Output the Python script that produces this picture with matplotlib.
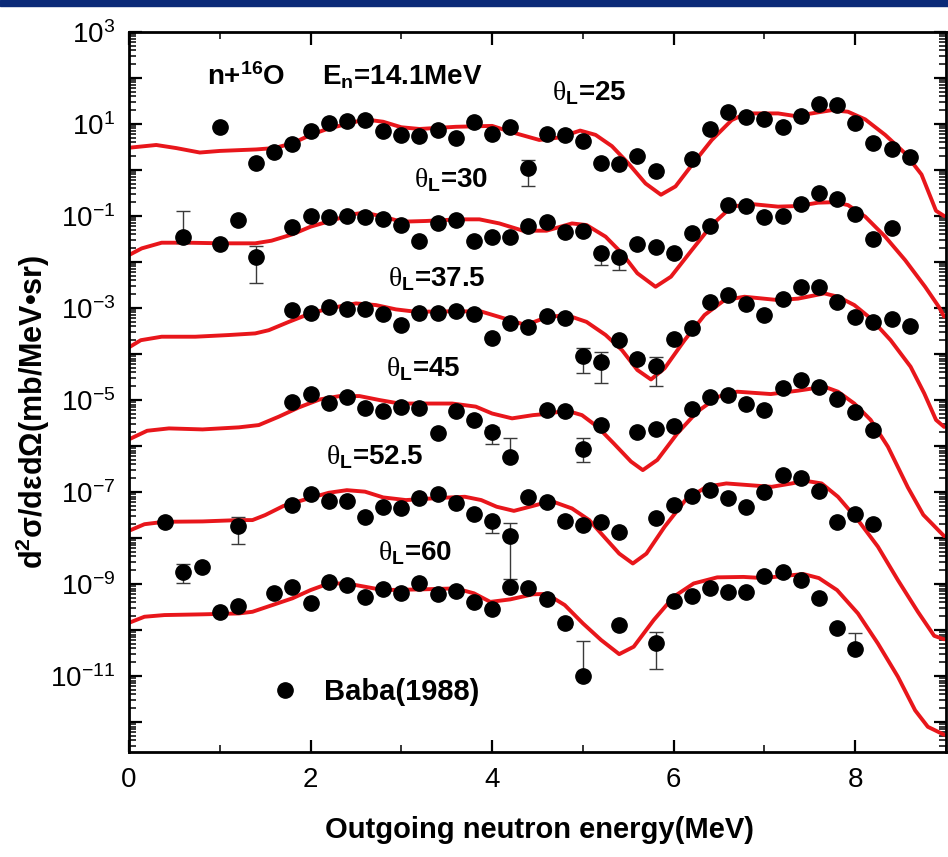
import numpy as np
import matplotlib
matplotlib.use('Agg')
import matplotlib.pyplot as plt
from matplotlib.ticker import MultipleLocator, LogLocator, FuncFormatter, NullFormatter
from matplotlib.lines import Line2D
from matplotlib.patches import Rectangle

plt.rcParams['font.family'] = ['Liberation Sans', 'DejaVu Sans']
plt.rcParams['mathtext.fontset'] = 'custom'
plt.rcParams['mathtext.rm'] = 'Liberation Serif'
plt.rcParams['mathtext.bf'] = 'Liberation Sans:bold'
plt.rcParams['mathtext.it'] = 'Liberation Sans:italic'

# ---- Baba(1988) data points (already scaled by 10^-2 per angle step) ----
x25 = [1.0, 1.4, 1.6, 1.8, 2.0, 2.2, 2.4, 2.6, 2.8, 3.0, 3.2, 3.4, 3.6, 3.8, 4.0, 4.2, 4.4, 4.6, 4.8,
       5.0, 5.2, 5.4, 5.6, 5.8, 6.2, 6.4, 6.6, 6.8, 7.0, 7.2, 7.4, 7.6, 7.8, 8.0, 8.2, 8.4, 8.6]
y25 = [8.5, 1.40, 2.5, 3.6, 7.0, 10.7, 11.6, 12.2, 7.0, 5.8, 5.6, 7.4, 4.9, 11.2, 6.0, 8.5, 1.09, 6.1, 5.8,
       4.3, 1.40, 1.35, 2.05, 0.97, 1.7, 7.7, 18.5, 14.4, 12.6, 8.7, 14.9, 26.8, 25.9, 10.7, 3.8, 2.9, 1.95]

x30 = [0.6, 1.0, 1.2, 1.4, 1.8, 2.0, 2.2, 2.4, 2.6, 2.8, 3.0, 3.2, 3.4, 3.6, 3.8, 4.0, 4.2, 4.4, 4.6,
       4.8, 5.0, 5.2, 5.4, 5.6, 5.8, 6.0, 6.2, 6.4, 6.6, 6.8, 7.0, 7.2, 7.4, 7.6, 7.8, 8.0, 8.2, 8.4]
y30 = [3.44e-2, 2.46e-2, 8.2e-2, 1.27e-2, 5.7e-2, 1.02e-1, 9.4e-2, 1.02e-1, 9.7e-2, 8.5e-2, 6.4e-2,
       2.8e-2, 6.9e-2, 8.2e-2, 2.9e-2, 3.56e-2, 3.5e-2, 6.1e-2, 7.3e-2, 4.6e-2, 4.8e-2, 1.6e-2, 1.27e-2,
       2.46e-2, 2.08e-2, 1.6e-2, 4.2e-2, 6.1e-2, 1.73e-1, 1.65e-1, 9.4e-2, 1.0e-1, 1.82e-1, 3.1e-1,
       2.3e-1, 1.1e-1, 3.2e-2, 5.6e-2]

x37 = [1.8, 2.0, 2.2, 2.4, 2.6, 2.8, 3.0, 3.2, 3.4, 3.6, 3.8, 4.0, 4.2, 4.4, 4.6, 4.8, 5.0, 5.2, 5.4,
       5.6, 5.8, 6.0, 6.2, 6.4, 6.6, 6.8, 7.0, 7.2, 7.4, 7.6, 7.8, 8.0, 8.2, 8.4, 8.6]
y37 = [9.0e-4, 7.9e-4, 1.03e-3, 9.4e-4, 9.4e-4, 7.4e-4, 4.3e-4, 7.7e-4, 7.7e-4, 8.8e-4, 7.4e-4, 2.2e-4,
       4.8e-4, 3.9e-4, 6.7e-4, 6.0e-4, 9.0e-5, 6.8e-5, 2.0e-4, 8.0e-5, 5.5e-5, 2.1e-4, 3.6e-4, 1.37e-3,
       1.92e-3, 1.22e-3, 7.0e-4, 1.54e-3, 2.9e-3, 2.8e-3, 1.37e-3, 6.3e-4, 5.0e-4, 5.8e-4, 4.1e-4]

x45 = [1.8, 2.0, 2.2, 2.4, 2.6, 2.8, 3.0, 3.2, 3.4, 3.6, 3.8, 4.0, 4.2, 4.6, 4.8, 5.0, 5.2, 5.6, 5.8,
       6.0, 6.2, 6.4, 6.6, 6.8, 7.0, 7.2, 7.4, 7.6, 7.8, 8.0, 8.2]
y45 = [8.9e-6, 1.33e-5, 8.8e-6, 1.14e-5, 6.6e-6, 5.9e-6, 6.9e-6, 6.6e-6, 1.95e-6, 5.9e-6, 3.7e-6,
       2.05e-6, 5.7e-7, 6.1e-6, 5.9e-6, 8.5e-7, 2.86e-6, 2.05e-6, 2.3e-6, 2.7e-6, 6.3e-6, 1.14e-5,
       1.29e-5, 8.2e-6, 6.1e-6, 1.85e-5, 2.72e-5, 1.95e-5, 1.03e-5, 5.6e-6, 2.23e-6]

x52 = [0.4, 1.2, 1.8, 2.0, 2.2, 2.4, 2.6, 2.8, 3.0, 3.2, 3.4, 3.6, 3.8, 4.0, 4.2, 4.4, 4.6, 4.8, 5.0,
       5.2, 5.4, 5.8, 6.0, 6.2, 6.4, 6.6, 6.8, 7.0, 7.2, 7.4, 7.6, 7.8, 8.0, 8.2]
y52 = [2.26e-8, 1.82e-8, 5.2e-8, 8.9e-8, 6.5e-8, 6.5e-8, 2.9e-8, 4.8e-8, 4.4e-8, 7.3e-8, 8.9e-8, 5.7e-8,
       3.4e-8, 2.3e-8, 1.1e-8, 7.65e-8, 6.2e-8, 2.4e-8, 1.92e-8, 2.26e-8, 1.37e-8, 2.68e-8, 5.2e-8,
       8.2e-8, 1.1e-7, 7.5e-8, 4.65e-8, 9.8e-8, 2.34e-7, 1.98e-7, 1.07e-7, 2.26e-8, 3.3e-8, 2.0e-8]

x60 = [0.6, 0.8, 1.0, 1.2, 1.6, 1.8, 2.0, 2.2, 2.4, 2.6, 2.8, 3.0, 3.2, 3.4, 3.6, 3.8, 4.0, 4.2, 4.4,
       4.6, 4.8, 5.0, 5.4, 5.8, 6.0, 6.2, 6.4, 6.6, 6.8, 7.0, 7.2, 7.4, 7.6, 7.8, 8.0]
y60 = [1.85e-9, 2.38e-9, 2.5e-10, 3.3e-10, 6.3e-10, 8.75e-10, 3.9e-10, 1.12e-9, 9.5e-10, 5.3e-10,
       7.65e-10, 6.3e-10, 1.03e-9, 6.1e-10, 7.0e-10, 4.1e-10, 2.85e-10, 8.8e-10, 8.05e-10, 4.65e-10,
       1.4e-10, 1.0e-11, 1.29e-10, 5.3e-11, 4.35e-10, 5.5e-10, 8.05e-10, 6.8e-10, 6.6e-10, 1.5e-9,
       1.85e-9, 1.22e-9, 4.9e-10, 1.12e-10, 3.9e-11]

# ---- error bars: energy, lower end, upper end ----
ex = [4.4, 5.8, 0.6, 1.4, 5.2, 5.4, 6.0, 5.0, 5.2, 5.6, 5.8, 4.0, 4.2, 5.0,
      1.2, 4.0, 4.2, 4.8, 5.4, 0.6, 4.8, 5.0, 5.8, 7.8, 8.0]
elo = [0.45, 0.78, 2.6e-2, 3.5e-3, 8.6e-3, 6.7e-3, 1.3e-2, 3.9e-5, 2.3e-5, 6.5e-5, 2.0e-5, 1.1e-6, 5.7e-7, 4.6e-7,
       7.6e-9, 1.3e-8, 1.27e-9, 1.9e-8, 1.15e-8, 1.03e-9, 1.15e-10, 1.0e-11, 1.4e-11, 9.5e-11, 3.9e-11]
ehi = [1.65, 1.0, 1.28e-1, 2.23e-2, 1.8e-2, 1.4e-2, 1.7e-2, 1.33e-4, 1.12e-4, 9.5e-5, 8.7e-5, 2.6e-6, 1.47e-6, 1.47e-6,
       2.9e-8, 2.6e-8, 2.15e-8, 2.9e-8, 1.6e-8, 2.8e-9, 1.6e-10, 5.9e-11, 9.2e-11, 1.3e-10, 8.8e-11]

# ---- model curves ----
cx25 = [0.0, 0.3, 0.52, 0.78, 1.0, 1.4, 1.6, 1.8, 2.0, 2.2, 2.4, 2.6, 2.8, 3.0, 3.2, 3.6, 4.0, 4.22, 4.52,
        4.74, 4.97, 5.14, 5.32, 5.5, 5.69, 5.86, 6.02, 6.2, 6.42, 6.64, 6.8, 7.15, 7.34, 7.52, 7.74, 7.92,
        8.11, 8.33, 8.55, 8.73, 8.89, 8.98]
cy25 = [3.05, 3.5, 3.0, 2.4, 2.6, 2.8, 3.0, 3.8, 5.8, 8.0, 10.0, 12.6, 11.2, 8.5, 7.8, 8.7, 9.1, 6.6, 4.5,
        5.1, 7.2, 5.8, 3.3, 1.4, 0.51, 0.29, 0.44, 1.28, 4.5, 12.2, 17.0, 17.0, 14.9, 17.0, 20.0, 18.5,
        12.6, 5.8, 2.3, 0.8, 0.13, 0.1]

cx30 = [0.0, 0.14, 0.36, 0.65, 1.03, 1.39, 1.57, 1.8, 2.0, 2.25, 2.47, 2.6, 2.8, 3.0, 3.27, 3.63, 3.86,
        4.08, 4.34, 4.6, 4.88, 5.04, 5.25, 5.43, 5.6, 5.8, 5.97, 6.2, 6.42, 6.64, 6.86, 7.15, 7.37, 7.59,
        7.77, 7.92, 8.11, 8.33, 8.55, 8.77, 8.92, 8.98]
cy30 = [0.0142, 0.0198, 0.0263, 0.0263, 0.0255, 0.0255, 0.0291, 0.040, 0.0586, 0.0818, 0.110, 0.118,
        0.097, 0.0753, 0.078, 0.0847, 0.0847, 0.069, 0.048, 0.048, 0.069, 0.0637, 0.0356, 0.0155, 0.0057,
        0.0029, 0.0048, 0.0182, 0.0637, 0.160, 0.182, 0.160, 0.165, 0.195, 0.20, 0.173, 0.097, 0.0356,
        0.011, 0.0029, 0.00107, 0.00065]

cx37 = [0.0, 0.13, 0.36, 0.73, 1.1, 1.39, 1.54, 1.76, 1.98, 2.2, 2.5, 2.72, 2.94, 3.16, 3.6, 3.88, 4.08,
        4.37, 4.6, 4.82, 5.04, 5.25, 5.43, 5.6, 5.75, 5.9, 6.12, 6.34, 6.56, 6.78, 7.15, 7.37, 7.66, 7.81,
        7.99, 8.17, 8.39, 8.61, 8.76, 8.89, 8.98]
cy37 = [1.4e-4, 2.0e-4, 2.38e-4, 2.38e-4, 2.59e-4, 2.81e-4, 3.3e-4, 5.0e-4, 7.4e-4, 9.8e-4, 1.26e-3,
        1.16e-3, 9.35e-4, 8.3e-4, 8.5e-4, 8.4e-4, 6.4e-4, 4.27e-4, 6.3e-4, 7.05e-4, 5.0e-4, 2.6e-4,
        1.22e-4, 4.5e-5, 2.8e-5, 4.9e-5, 2.0e-4, 7.05e-4, 1.49e-3, 1.76e-3, 1.49e-3, 1.6e-3, 2.08e-3,
        1.76e-3, 1.16e-3, 5.95e-4, 2.0e-4, 5.3e-5, 1.4e-5, 3.7e-6, 2.6e-6]

cx45 = [0.0, 0.2, 0.44, 0.81, 1.21, 1.43, 1.65, 1.87, 2.1, 2.32, 2.54, 2.76, 2.98, 3.19, 3.56, 3.82, 4.0,
        4.22, 4.45, 4.6, 4.82, 4.99, 5.16, 5.34, 5.53, 5.66, 5.82, 6.04, 6.26, 6.49, 6.7, 7.07, 7.37, 7.66,
        7.81, 7.99, 8.17, 8.36, 8.58, 8.75, 8.98]
cy45 = [1.4e-6, 2.15e-6, 2.42e-6, 2.3e-6, 2.55e-6, 2.86e-6, 4.35e-6, 6.9e-6, 1.03e-5, 1.22e-5, 1.22e-5,
        1.0e-5, 8.4e-6, 8.4e-6, 8.4e-6, 7.2e-6, 5.1e-6, 4.0e-6, 4.7e-6, 5.0e-6, 5.9e-6, 4.7e-6, 2.63e-6,
        1.14e-6, 4.6e-7, 3.0e-7, 5.0e-7, 1.88e-6, 5.6e-6, 1.18e-5, 1.52e-5, 1.35e-5, 1.6e-5, 1.95e-5,
        1.52e-5, 8.4e-6, 3.7e-6, 9.7e-7, 1.26e-7, 3.2e-8, 1.1e-8]

cx52 = [0.0, 0.17, 0.39, 0.81, 1.21, 1.36, 1.5, 1.7, 1.98, 2.2, 2.4, 2.6, 2.8, 3.05, 3.45, 3.7, 3.88, 4.05,
        4.24, 4.45, 4.65, 4.88, 5.07, 5.25, 5.4, 5.55, 5.7, 5.9, 6.13, 6.36, 6.58, 6.86, 7.08, 7.3, 7.45,
        7.63, 7.81, 8.03, 8.25, 8.47, 8.69, 8.87, 8.98]
cy52 = [1.44e-8, 2.0e-8, 2.26e-8, 2.3e-8, 2.46e-8, 2.46e-8, 3.16e-8, 4.97e-8, 7.3e-8, 9.65e-8, 1.1e-7,
        1.02e-7, 7.65e-8, 6.7e-8, 7.5e-8, 7.9e-8, 6.7e-8, 4.8e-8, 3.9e-8, 5.0e-8, 6.4e-8, 4.4e-8, 2.46e-8,
        9.8e-9, 4.6e-9, 2.8e-9, 4.6e-9, 1.76e-8, 6.7e-8, 1.3e-7, 1.54e-7, 1.4e-7, 1.3e-7, 1.54e-7,
        1.76e-7, 1.54e-7, 7.9e-8, 2.46e-8, 6.5e-9, 1.22e-9, 2.5e-10, 7.5e-11, 6.3e-11]

cx60 = [0.0, 0.17, 0.39, 0.81, 1.21, 1.36, 1.58, 1.8, 2.0, 2.2, 2.4, 2.6, 2.8, 3.2, 3.6, 3.8, 3.98, 4.2,
        4.45, 4.6, 4.8, 5.0, 5.2, 5.4, 5.56, 5.78, 6.0, 6.22, 6.48, 6.77, 6.99, 7.21, 7.43, 7.6, 7.8, 8.03,
        8.25, 8.47, 8.66, 8.8, 8.98]
cy60 = [1.44e-10, 1.95e-10, 2.12e-10, 2.2e-10, 2.3e-10, 2.5e-10, 3.5e-10, 4.9e-10, 7.4e-10, 1.03e-9,
        1.03e-9, 8.75e-10, 7.4e-10, 7.65e-10, 8.05e-10, 6.3e-10, 4.1e-10, 4.65e-10, 6.0e-10, 6.1e-10,
        3.5e-10, 1.4e-10, 6.1e-11, 3.0e-11, 4.35e-11, 1.65e-10, 5.3e-10, 1.03e-9, 1.4e-9, 1.43e-9,
        1.35e-9, 1.5e-9, 1.65e-9, 1.35e-9, 7.4e-10, 2.3e-10, 5.1e-11, 9.7e-12, 1.8e-12, 7.9e-13, 5.3e-13]

angles = ['25', '30', '37.5', '45', '52.5', '60']
points = [(x25, y25), (x30, y30), (x37, y37), (x45, y45), (x52, y52), (x60, y60)]
curves = [(cx25, cy25), (cx30, cy30), (cx37, cy37), (cx45, cy45), (cx52, cy52), (cx60, cy60)]

fig = plt.figure(figsize=(9.48, 8.57), dpi=100)
ax = fig.add_axes([129 / 948, 1 - 752 / 857, 817 / 948, 720 / 857])

red = '#e8161b'
for cx, cy in curves:
    ax.plot(cx, cy, color=red, lw=2.8, zorder=2, solid_capstyle='round', solid_joinstyle='round')

ex = np.array(ex)
elo = np.array(elo)
ehi = np.array(ehi)
ax.errorbar(ex, elo, yerr=[np.zeros_like(elo), ehi - elo], fmt='none', ecolor='#3a3a3a',
            elinewidth=1.0, capsize=5, capthick=1.0, zorder=3)

for px, py in points:
    ax.plot(px, py, 'o', color='black', ms=11, zorder=4)

ax.set_yscale('log')
ax.set_xlim(0, 9)
ax.set_ylim(10 ** -12.65, 1e3)

ax.xaxis.set_major_locator(MultipleLocator(2))
ax.xaxis.set_minor_locator(MultipleLocator(1))
ax.yaxis.set_major_locator(LogLocator(base=10, numticks=40))
ax.yaxis.set_minor_locator(LogLocator(base=10, subs=np.arange(2, 10), numticks=200))
ax.yaxis.set_minor_formatter(NullFormatter())


def ylab(v, pos):
    e = int(round(np.log10(v)))
    if e % 2 == 0:
        return ''
    return r'$\mathregular{10^{%d}}$' % e


ax.yaxis.set_major_formatter(FuncFormatter(ylab))
ax.tick_params(which='both', direction='in', top=True, right=True, labelsize=20)
ax.tick_params(which='major', length=9, width=1.6)
ax.tick_params(which='minor', length=5, width=1.1)
ax.tick_params(axis='x', which='major', pad=11)
ax.tick_params(axis='y', which='major', pad=10)
for s in ax.spines.values():
    s.set_linewidth(2)

# annotations
tb = dict(fontsize=20, fontweight='bold')
ax.text(0.86, 10 ** 1.85, r'n+$^{\mathregular{16}}$O', **tb)
ax.text(2.13, 10 ** 1.85, r'E$_{\mathbf{n}}$=14.1MeV', **tb)
lab_pos = [(4.66, 1.52), (3.14, -0.39), (2.85, -2.54), (2.83, -4.49), (2.17, -6.41), (2.74, -8.48)]
for a, (tx, ty) in zip(angles, lab_pos):
    ax.text(tx, 10 ** ty, r'$\mathrm{\theta}_{\mathbf{L}}$=' + a, fontsize=20, fontweight='bold')

h = Line2D([], [], marker='o', color='black', ls='none', ms=11)
ax.legend([h], ['Baba(1988)'], loc='center left', bbox_to_anchor=(0.15, 0.083), frameon=False,
          prop={'weight': 'bold', 'size': 21}, handletextpad=0.6, borderaxespad=0, handlelength=1.5)

fig.text(0.035, 0.52, r'd$^{\mathbf{2}}$σ/dεdΩ(mb/MeV•sr)', rotation=90, fontsize=22,
         fontweight='bold', ha='center', va='center')
fig.text(0.569, 0.031, 'Outgoing neutron energy(MeV)', fontsize=21, fontweight='bold',
         ha='center', va='center')

fig.patches.append(Rectangle((0, 1 - 6 / 857), 1, 6 / 857, transform=fig.transFigure,
                             color='#0b2a78', zorder=0))

fig.savefig('out.png', dpi=100)
